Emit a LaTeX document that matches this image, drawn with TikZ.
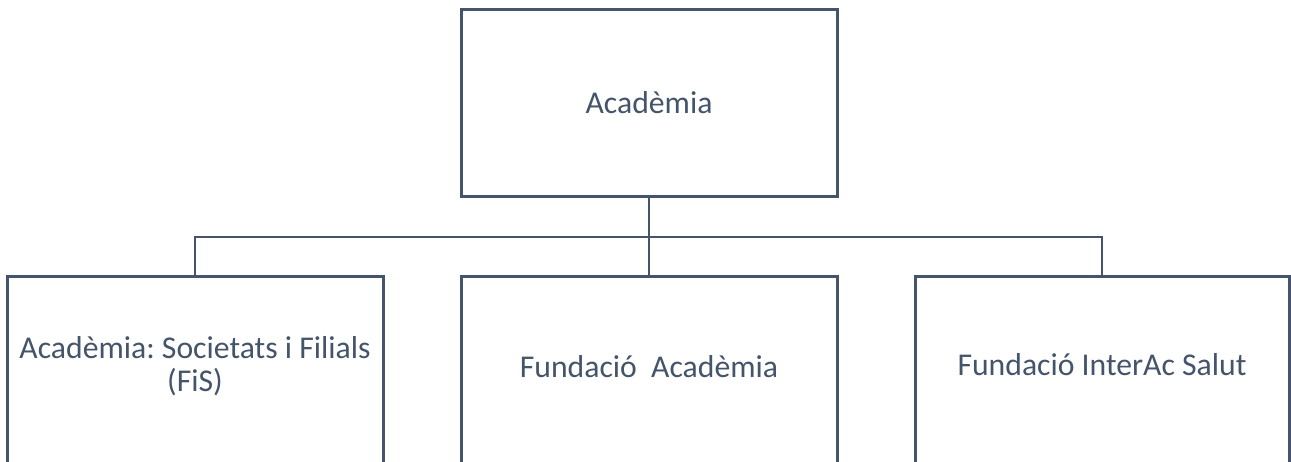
\documentclass[tikz,border=0pt]{standalone}
\usepackage{fontspec}
\setmainfont{Carlito}
\frenchspacing
\definecolor{slate}{HTML}{44546A}
\begin{document}
\begin{tikzpicture}[x=1pt,y=-1pt,
  orgbox/.style={draw=slate,line width=3pt,fill=white,minimum width=376pt,
    inner sep=0pt},
  lbl/.style={text=slate,align=center,font=\fontsize{31.7}{33}\selectfont,inner sep=0pt},
  link/.style={draw=slate,line width=2.6pt}]
\useasboundingbox (0,0) rectangle (1291,461);
\node[orgbox,minimum height=187pt,label={[lbl]center:Acadèmia}] (top) at (649,102.5) {};
\node[orgbox,minimum height=188pt,label={[lbl,yshift=4pt]center:Acadèmia: Societats i Filials\\(FiS)}] (left) at (195,370) {};
\node[orgbox,minimum height=188pt,label={[lbl,yshift=3pt]center:Fundació\ \ Acadèmia}] (mid) at (649,370) {};
\node[orgbox,minimum height=188pt,minimum width=374pt,label={[lbl,yshift=5pt]center:Fundació InterAc Salut}] (right) at (1102,370) {};
\coordinate (j) at (649,237);
\draw[link] (top.south) -- (mid.north);
\draw[link] (j) -| (left.north);
\draw[link] (j) -| (right.north);
\end{tikzpicture}
\end{document}
